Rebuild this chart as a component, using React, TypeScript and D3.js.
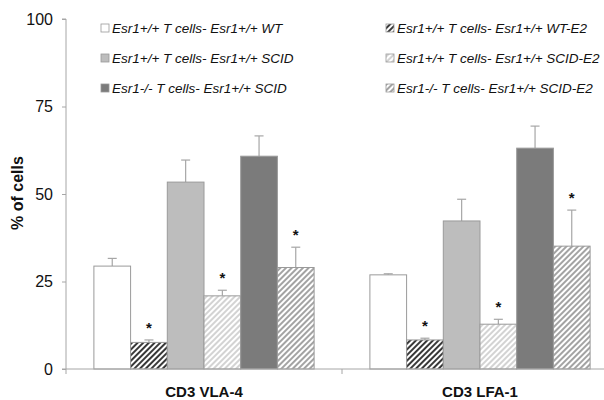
import React, { useEffect, useRef } from 'react';
import * as d3 from 'd3';

const groups = ['CD3 VLA-4', 'CD3 LFA-1'];
const series = [
    'Esr1+/+ T cells- Esr1+/+ WT',
    'Esr1+/+ T cells- Esr1+/+ WT-E2',
    'Esr1+/+ T cells- Esr1+/+ SCID',
    'Esr1+/+ T cells- Esr1+/+ SCID-E2',
    'Esr1-/- T cells- Esr1+/+ SCID',
    'Esr1-/- T cells- Esr1+/+ SCID-E2',
];
// values[group][series]
const vla4Values = [29.4, 7.6, 53.4, 20.9, 60.8, 29.0];
const vla4Errors = [2.2, 0.7, 6.3, 1.6, 5.8, 5.8];
const lfa1Values = [26.9, 8.3, 42.3, 12.8, 63.1, 35.1];
const lfa1Errors = [0.3, 0.5, 6.2, 1.4, 6.3, 10.3];
const significant = [false, true, false, true, false, true];
const yTicks = [0, 25, 50, 75, 100];

const W = 604;
const H = 400;
const m = { left: 66, top: 19, bottom: 31 };

export default function App() {
    const yAxisRef = useRef<SVGGElement>(null);

    const y = d3.scaleLinear().domain([0, 100]).range([H - m.bottom, m.top]);
    const x0 = d3.scaleBand<string>().domain(groups).range([m.left, m.left + 552]).padding(0);
    const x1 = d3
        .scaleBand<string>()
        .domain(series)
        .range([0, x0.bandwidth()])
        .paddingInner(0)
        .paddingOuter(0.76);

    const data = [
        { group: groups[0], values: vla4Values, errors: vla4Errors },
        { group: groups[1], values: lfa1Values, errors: lfa1Errors },
    ];

    const fills = [
        '#ffffff',
        'url(#hatchDark)',
        '#bdbdbd',
        'url(#hatchLight)',
        '#7b7b7b',
        'url(#hatchMid)',
    ];

    useEffect(() => {
        if (!yAxisRef.current) return;
        const g = d3.select(yAxisRef.current);
        g.selectAll('*').remove();
        g.call(d3.axisLeft(y).tickValues(yTicks).tickSize(4).tickPadding(9));
        g.select('.domain').attr('stroke', '#a6a6a6').attr('d', `M-4,${y(100)}H0V${y(0)}`);
        g.selectAll('.tick line').attr('stroke', '#a6a6a6');
        g.selectAll('.tick text')
            .attr('font-family', 'Liberation Sans, Arial, sans-serif')
            .attr('font-size', 16)
            .attr('fill', '#111');
    }, []);

    const legendX = [101, 386];
    const legendY = [28, 58, 88];

    return (
        <div style={{ position: 'fixed', left: 0, top: 0 }}>
            <svg width={W} height={H} viewBox={`0 0 ${W} ${H}`} style={{ display: 'block', background: '#fff' }}>
                <defs>
                    <pattern id="hatchDark" patternUnits="userSpaceOnUse" width={4} height={4} patternTransform="rotate(45)">
                        <rect width={4} height={4} fill="#fff" />
                        <line x1={1} y1={0} x2={1} y2={4} stroke="#222" strokeWidth={1.8} />
                    </pattern>
                    <pattern id="hatchLight" patternUnits="userSpaceOnUse" width={4} height={4} patternTransform="rotate(45)">
                        <rect width={4} height={4} fill="#fff" />
                        <line x1={1} y1={0} x2={1} y2={4} stroke="#c8c8c8" strokeWidth={1.6} />
                    </pattern>
                    <pattern id="hatchMid" patternUnits="userSpaceOnUse" width={4} height={4} patternTransform="rotate(45)">
                        <rect width={4} height={4} fill="#fff" />
                        <line x1={1} y1={0} x2={1} y2={4} stroke="#8c8c8c" strokeWidth={1.6} />
                    </pattern>
                </defs>

                {/* bars */}
                {data.map((d) => (
                    <g key={d.group} transform={`translate(${x0(d.group)},0)`}>
                        {series.map((s, i) => {
                            const bx = x1(s)!;
                            const bw = x1.bandwidth();
                            const top = y(d.values[i]);
                            const errTop = y(d.values[i] + d.errors[i]);
                            const cx = bx + bw / 2;
                            return (
                                <g key={s}>
                                    <line x1={cx} x2={cx} y1={top} y2={errTop} stroke="#a6a6a6" strokeWidth={1.2} />
                                    <line x1={cx - 4.5} x2={cx + 4.5} y1={errTop} y2={errTop} stroke="#a6a6a6" strokeWidth={1.2} />
                                    <rect
                                        x={bx}
                                        y={top}
                                        width={bw}
                                        height={y(0) - top}
                                        fill={fills[i]}
                                        stroke="#9a9a9a"
                                        strokeWidth={1}
                                    />
                                    {significant[i] && (
                                        <text
                                            x={cx}
                                            y={errTop - 7}
                                            textAnchor="middle"
                                            fontFamily="Liberation Sans, Arial, sans-serif"
                                            fontSize={15}
                                            fontWeight={700}
                                            fill="#111"
                                        >
                                            *
                                        </text>
                                    )}
                                </g>
                            );
                        })}
                    </g>
                ))}

                {/* x axis */}
                <line x1={m.left - 4} x2={W} y1={y(0)} y2={y(0)} stroke="#a6a6a6" strokeWidth={1} />
                {groups.map((g) => (
                    <line key={g} x1={x0(g)!} x2={x0(g)!} y1={y(0)} y2={y(0) + 5} stroke="#a6a6a6" strokeWidth={1} />
                ))}
                {groups.map((g) => (
                    <text
                        key={g}
                        x={x0(g)! + x0.bandwidth() / 2}
                        y={H - 3}
                        textAnchor="middle"
                        fontFamily="Liberation Sans, Arial, sans-serif"
                        fontSize={15}
                        fontWeight={700}
                        fill="#111"
                    >
                        {g}
                    </text>
                ))}

                {/* y axis */}
                <g ref={yAxisRef} transform={`translate(${m.left},0)`} />
                <text
                    transform={`translate(23,${(y(0) + y(100)) / 2 - 1}) rotate(-90)`}
                    textAnchor="middle"
                    fontFamily="Liberation Sans, Arial, sans-serif"
                    fontSize={16}
                    fontWeight={700}
                    fill="#111"
                >
                    % of cells
                </text>

                {/* legend */}
                {series.map((s, i) => {
                    const col = i % 2;
                    const row = Math.floor(i / 2);
                    const lx = legendX[col];
                    const ly = legendY[row];
                    return (
                        <g key={s}>
                            <rect x={lx} y={ly - 4} width={8} height={8} fill={fills[i]} stroke="#9a9a9a" strokeWidth={0.8} />
                            <text
                                x={lx + 11}
                                y={ly + 5}
                                fontFamily="Liberation Sans, Arial, sans-serif"
                                fontSize={13.5}
                                fontStyle="italic"
                                fill="#111"
                            >
                                {s}
                            </text>
                        </g>
                    );
                })}
            </svg>
        </div>
    );
}
